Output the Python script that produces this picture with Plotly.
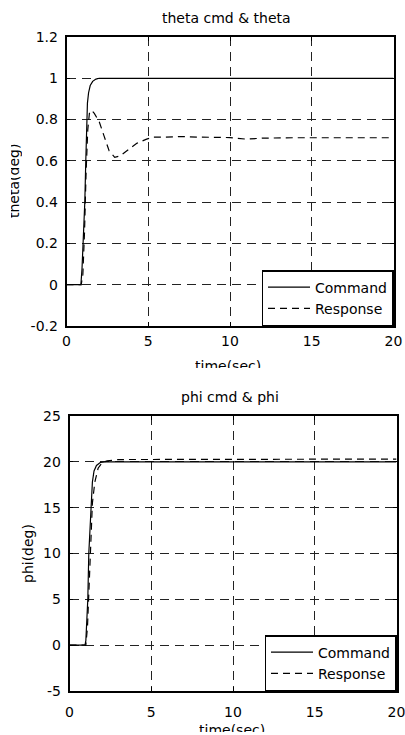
import plotly.graph_objects as go

W, H = 405, 735

# ---- data ----
theta_cmd_t = [0, 0.88, 0.95, 1.02, 1.12, 1.18, 1.22, 1.28, 1.35, 1.45, 1.6, 1.8, 2.0, 20]
theta_cmd_v = [0, 0, 0.08, 0.2, 0.4, 0.6, 0.8, 0.88, 0.93, 0.965, 0.985, 0.996, 1.0, 1.0]

theta_rsp_t = [0, 0.9, 1.0, 1.1, 1.2, 1.3, 1.4, 1.53, 1.7, 2.0, 2.3, 2.6, 2.95, 3.3, 3.8, 4.3,
               4.9, 5.3, 6, 7, 8, 9, 10, 11, 12, 14, 20]
theta_rsp_v = [0, 0, 0.05, 0.25, 0.55, 0.75, 0.83, 0.845, 0.83, 0.79, 0.72, 0.65, 0.617, 0.625,
               0.655, 0.685, 0.705, 0.715, 0.715, 0.718, 0.715, 0.713, 0.713, 0.705, 0.71, 0.712, 0.712]

phi_cmd_t = [0, 0.95, 1.0, 1.12, 1.18, 1.3, 1.4, 1.5, 1.65, 1.9, 2.2, 20]
phi_cmd_v = [0, 0, 0.5, 5, 10, 15, 17.8, 19, 19.6, 19.95, 20, 20]

phi_rsp_t = [0, 1.0, 1.1, 1.2, 1.3, 1.4, 1.55, 1.75, 2.0, 2.3, 3.0, 20]
phi_rsp_v = [0, 0, 2, 7, 12, 15.5, 17.8, 19.3, 19.9, 20.1, 20.25, 20.3]

x_ticks = [0, 5, 10, 15, 20]
x_ticktext = ["0", "5", "10", "15", "20"]
theta_ticks = [-0.2, 0, 0.2, 0.4, 0.6, 0.8, 1.0, 1.2]
theta_ticktext = ["-0.2", "0", "0.2", "0.4", "0.6", "0.8", "1", "1.2"]
phi_ticks = [-5, 0, 5, 10, 15, 20, 25]
phi_ticktext = ["-5", "0", "5", "10", "15", "20", "25"]

FONT = "DejaVu Sans"
FS = 14

fig = go.Figure()
fig.add_trace(go.Scatter(x=theta_cmd_t, y=theta_cmd_v, mode="lines", name="Command",
                         line=dict(color="black", width=1.2), xaxis="x", yaxis="y", legend="legend"))
fig.add_trace(go.Scatter(x=theta_rsp_t, y=theta_rsp_v, mode="lines", name="Response",
                         line=dict(color="black", width=1.2, dash="7px,5px"), xaxis="x", yaxis="y",
                         legend="legend"))
fig.add_trace(go.Scatter(x=phi_cmd_t, y=phi_cmd_v, mode="lines", name="Command",
                         line=dict(color="black", width=1.2), xaxis="x2", yaxis="y2", legend="legend2"))
fig.add_trace(go.Scatter(x=phi_rsp_t, y=phi_rsp_v, mode="lines", name="Response",
                         line=dict(color="black", width=1.2, dash="7px,5px"), xaxis="x2", yaxis="y2",
                         legend="legend2"))


def px_x(p):
    return p / W


def px_y(p):
    return 1 - p / H


axis_common = dict(showline=True, linecolor="black", linewidth=1.5, mirror="ticks",
                   ticks="inside", ticklen=4, tickcolor="black", tickwidth=1,
                   showgrid=True, gridcolor="#222", gridwidth=1, griddash="9px,6px",
                   zeroline=False, automargin=False, ticklabeloverflow="allow",
                   tickfont=dict(family=FONT, size=FS, color="black"))

legend_common = dict(xanchor="right", yanchor="bottom",
                     bgcolor="white", bordercolor="black", borderwidth=1.5,
                     font=dict(family=FONT, size=FS, color="black"),
                     tracegroupgap=0, itemwidth=42)

fig.update_layout(
    width=W, height=H,
    margin=dict(l=0, r=0, t=0, b=0),
    paper_bgcolor="white", plot_bgcolor="white",
    font=dict(family=FONT, size=FS, color="black"),
    xaxis=dict(domain=[px_x(66.5), px_x(393.5)], range=[0, 20], tickvals=x_ticks,
               ticktext=x_ticktext, anchor="y", ticklabelstandoff=1, **axis_common),
    yaxis=dict(domain=[px_y(326), px_y(37)], range=[-0.2, 1.2], tickvals=theta_ticks,
               ticktext=theta_ticktext, anchor="x", ticklabelstandoff=4, **axis_common),
    xaxis2=dict(domain=[px_x(69.5), px_x(396.5)], range=[0, 20], tickvals=x_ticks,
                ticktext=x_ticktext, anchor="y2", ticklabelstandoff=7, **axis_common),
    yaxis2=dict(domain=[px_y(691), px_y(416)], range=[-5, 25], tickvals=phi_ticks,
                ticktext=phi_ticktext, anchor="x2", ticklabelstandoff=4, **axis_common),
    legend=dict(x=px_x(393.5), y=px_y(326), **legend_common),
    legend2=dict(x=px_x(396.5), y=px_y(691), **legend_common),
    showlegend=True,
)

ann = []
# titles
ann.append(dict(text="theta cmd & theta", x=px_x(227), y=px_y(18), xref="paper", yref="paper",
                xanchor="center", yanchor="middle", showarrow=False,
                font=dict(family=FONT, size=FS, color="black")))
ann.append(dict(text="phi cmd & phi", x=px_x(230.5), y=px_y(397), xref="paper", yref="paper",
                xanchor="center", yanchor="middle", showarrow=False,
                font=dict(family=FONT, size=FS, color="black")))
# y titles
ann.append(dict(text="theta(deg)", x=px_x(16), y=px_y(181), xref="paper", yref="paper",
                xanchor="center", yanchor="middle", showarrow=False, textangle=-90,
                height=11, valign="bottom",
                font=dict(family=FONT, size=FS, color="black")))
ann.append(dict(text="phi(deg)", x=px_x(28), y=px_y(553), xref="paper", yref="paper",
                xanchor="center", yanchor="middle", showarrow=False, textangle=-90,
                font=dict(family=FONT, size=FS, color="black")))
# x titles (cropped at bottom, as in the reference)
ann.append(dict(text="time(sec)", x=px_x(228), y=px_y(356), xref="paper", yref="paper",
                xanchor="center", yanchor="top", showarrow=False, height=10, valign="top",
                font=dict(family=FONT, size=FS, color="black")))
ann.append(dict(text="time(sec)", x=px_x(231.5), y=px_y(720), xref="paper", yref="paper",
                xanchor="center", yanchor="top", showarrow=False, height=10, valign="top",
                font=dict(family=FONT, size=FS, color="black")))
fig.update_layout(annotations=ann)

fig.write_html("out.html")
